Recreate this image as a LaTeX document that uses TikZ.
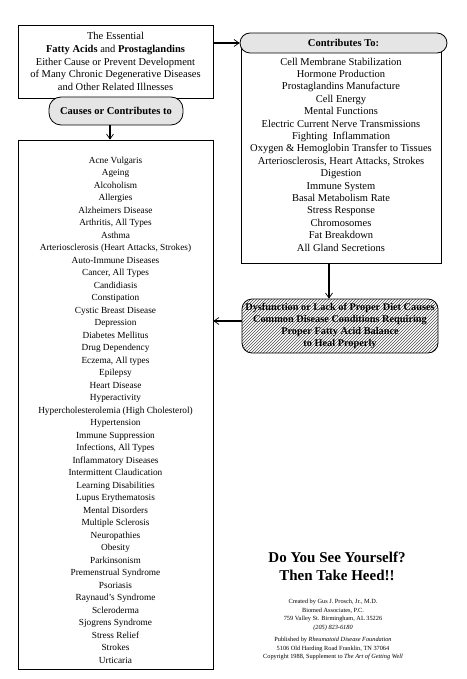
\documentclass[tikz,border=0pt]{standalone}
\usepackage{fontspec}
\setmainfont{Liberation Serif}
\usetikzlibrary{arrows.meta,patterns}
\begin{document}
\begin{tikzpicture}[x=1pt,y=-1pt,
  box/.style={draw, line width=0.8pt, inner sep=0pt},
  pill/.style={draw, line width=0.8pt, fill=gray!20, inner sep=0pt,
    font=\bfseries\fontsize{10.5}{12.5}\selectfont},
  conn/.style={line width=1.6pt, -{Straight Barb[length=5pt,width=7pt,line width=0.7pt]}},
  txt/.style={align=center, inner sep=0pt, font=\fontsize{10.5}{12.4}\selectfont},
  listtxt/.style={align=center, inner sep=0pt, font=\fontsize{9.3}{12.5}\selectfont},
  small/.style={align=center, inner sep=0pt, font=\fontsize{6.3}{8.6}\selectfont}
]
\useasboundingbox (0,0) rectangle (466,679);

% top box
\node[box, minimum width=195pt, minimum height=73pt, align=center,
  font=\fontsize{10.5}{12.7}\selectfont] (top) at (115.5,61.5)
  {The Essential\\\textbf{Fatty Acids} and \textbf{Prostaglandins}\\Either Cause or Prevent Development\\of Many Chronic Degenerative Diseases\\and Other Related Illnesses};

% causes pill
\node[pill, rounded corners=12pt, minimum width=134pt, minimum height=28pt] (causes) at (116,111) {Causes or Contributes to};

% list box
\node[box, minimum width=195pt, minimum height=529pt] (list) at (115.5,404.5) {};
\node[listtxt] (ltxt) at (115.5,410) {Acne Vulgaris\\Ageing\\Alcoholism\\Allergies\\Alzheimers Disease\\Arthritis, All Types\\Asthma\\Arteriosclerosis (Heart Attacks, Strokes)\\Auto-Immune Diseases\\Cancer, All Types\\Candidiasis\\Constipation\\Cystic Breast Disease\\Depression\\Diabetes Mellitus\\Drug Dependency\\Eczema, All types\\Epilepsy\\Heart Disease\\Hyperactivity\\Hypercholesterolemia (High Cholesterol)\\Hypertension\\Immune Suppression\\Infections, All Types\\Inflammatory Diseases\\Intermittent Claudication\\Learning Disabilities\\Lupus Erythematosis\\Mental Disorders\\Multiple Sclerosis\\Neuropathies\\Obesity\\Parkinsonism\\Premenstrual Syndrome\\Psoriasis\\Raynaud's Syndrome\\Scleroderma\\Sjogrens Syndrome\\Stress Relief\\Strokes\\Urticaria};

% right box
\node[box, minimum width=200pt, minimum height=220pt] (rbox) at (341,153) {};
\node[txt] (rtxt) at (341,154.5) {Cell Membrane Stabilization\\Hormone Production\\Prostaglandins Manufacture\\Cell Energy\\Mental Functions\\Electric Current Nerve Transmissions\\Fighting\ \ Inflammation\\Oxygen \& Hemoglobin Transfer to Tissues\\Arteriosclerosis, Heart Attacks, Strokes\\Digestion\\Immune System\\Basal Metabolism Rate\\Stress Response\\Chromosomes\\Fat Breakdown\\All Gland Secretions};
\node[pill, rounded corners=10pt, minimum width=207pt, minimum height=20pt] (cpill) at (343.5,43) {Contributes To:};

% hatched box
\node[draw, line width=0.8pt, rounded corners=10pt, pattern=north east lines, pattern color=black!70,
  minimum width=196pt, minimum height=54pt, inner sep=0pt, align=center,
  font=\bfseries\fontsize{10.3}{12.2}\selectfont] (hat) at (340,326)
  {Dysfunction or Lack of Proper Diet Causes\\Common Disease Conditions Requiring\\Proper Fatty Acid Balance\\to Heal Properly};

% connectors
\draw[conn] (top.east |- cpill.west) -- (cpill.west);
\draw[conn] ([xshift=-6pt]causes.south) -- ([xshift=-6pt]causes.south |- list.north);
\draw[conn] ([xshift=-12pt]rbox.south) -- ([xshift=-12pt]rbox.south |- hat.north);
\draw[conn] ([yshift=5pt]hat.west) -- ([yshift=5pt]hat.west -| list.east);

% bottom right texts
\node[align=center, inner sep=0pt, font=\bfseries\fontsize{15}{18}\selectfont] (heed) at (337,566)
  {Do You See Yourself?\\Then Take Heed!!};
\node[small] (cred) at (333,615) {Created by Gus J. Prosch, Jr., M.D.\\Biomed Associates, P.C.\\759 Valley St. Birmingham, AL 35226\\\textit{(205) 823-6180}};
\node[small] (pub) at (333,648.5) {Published by \textit{Rheumatoid Disease Foundation}\\5106 Old Harding Road Franklin, TN 37064\\Copyright 1988, Supplement to \textit{The Art of Getting Well}};
\end{tikzpicture}
\end{document}
